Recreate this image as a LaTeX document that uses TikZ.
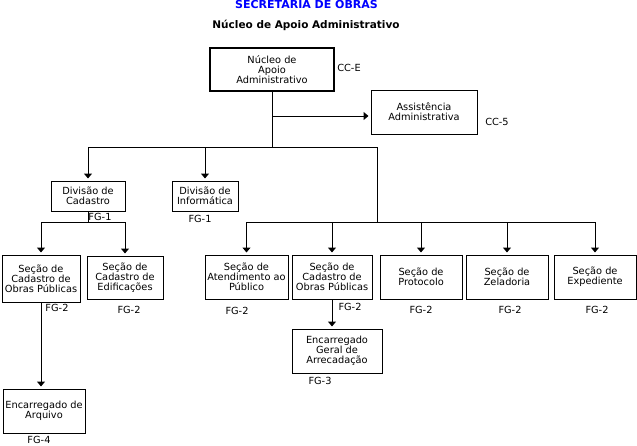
\documentclass[tikz,border=0pt]{standalone}
\usepackage{fontspec}
\setmainfont{DejaVu Sans}
\usepackage{xcolor}
\usetikzlibrary{arrows.meta, positioning}
\definecolor{titleblue}{RGB}{0,0,255}

\begin{document}
\begin{tikzpicture}
[x = 1pt, y = -1pt, line width = 1pt,
 every node/.style = {font=\fontsize{9.8}{10}\selectfont, align=center, inner sep=0pt},
 unit/.style = {rectangle, draw=black, fill=white},
 arr/.style = {-{Triangle[length=5pt, width=8pt]}, shorten >=2pt}]
\useasboundingbox (0,0) rectangle (637,445);

\node[text=titleblue, font=\bfseries\fontsize{11}{12}\selectfont] (t1) at (306.5,4.5) {SECRETARIA DE OBRAS};
\node[font=\bfseries\fontsize{10.5}{12}\selectfont] (t2) at (306,25) {Núcleo de Apoio Administrativo};

\node[unit, line width=2.5pt, minimum width=124pt, minimum height=43pt] (n1) at (272,69.5) {Núcleo de\\Apoio\\Administrativo};
\node[unit, minimum width=106pt, minimum height=44pt] (n2) at (424,112) {Assistência\\Administrativa};
\node[unit, minimum width=74pt, minimum height=30pt] (n3) at (88,196) {Divisão de\\Cadastro};
\node[unit, minimum width=66pt, minimum height=30pt] (n4) at (205,196) {Divisão de\\Informática};
\node[unit, minimum width=78pt, minimum height=47pt] (n5) at (41,278.5) {Seção de\\Cadastro de\\Obras Públicas};
\node[unit, minimum width=76pt, minimum height=43pt] (n6) at (125,277.5) {Seção de\\Cadastro de\\Edificações};
\node[unit, minimum width=83pt, minimum height=44pt] (n7) at (246.5,277) {Seção de\\Atendimento ao\\Público};
\node[unit, minimum width=80pt, minimum height=44pt] (n8) at (332,277) {Seção de\\Cadastro de\\Obras Públicas};
\node[unit, minimum width=82pt, minimum height=44pt] (n9) at (421,277) {Seção de\\Protocolo};
\node[unit, minimum width=82pt, minimum height=44pt] (n10) at (507,277) {Seção de\\Zeladoria};
\node[unit, minimum width=82pt, minimum height=44pt] (n11) at (595,277) {Seção de\\Expediente};
\node[unit, minimum width=90pt, minimum height=44pt] (n12) at (337,351) {Encarregado\\Geral de\\Arrecadação};
\node[unit, minimum width=82pt, minimum height=44pt] (n13) at (44,411) {Encarregado de\\Arquivo};

% cargos
\node (c1) at (349,68) {CC-E};
\node (c2) at (497,122) {CC-5};
\node (c3) at (100,217) {FG-1};
\node (c4) at (200,219) {FG-1};
\node (c5) at (57,308) {FG-2};
\node (c6) at (129,310) {FG-2};
\node (c7) at (237,311) {FG-2};
\node (c8) at (350,307) {FG-2};
\node (c9) at (421,310) {FG-2};
\node (c10) at (510,310) {FG-2};
\node (c11) at (597,310) {FG-2};
\node (c12) at (320,381) {FG-3};
\node (c13) at (39,440) {FG-4};

\coordinate (a1) at (272,116);
\coordinate (b1) at (272,147);
\coordinate (b2) at (377,147);
\coordinate (b3) at (377,222);
\coordinate (b4) at (88,222);

\draw (n1.south) -- (b1);
\draw[arr] (a1) -- (a1 -| n2.west);
\draw (b1 -| n3) -- (b2) -- (b3);
\foreach \n in {n3, n4}
  \draw[arr] (b1 -| \n) -- (\n);
\draw (n3.south) -- (b4);
\draw (b4 -| n5) -- (b4 -| n6);
\foreach \n in {n5, n6}
  \draw[arr] (b4 -| \n) -- (\n);
\draw (b3 -| n7) -- (b3 -| n11);
\foreach \n in {n7, n8, n9, n10, n11}
  \draw[arr] (b3 -| \n) -- (\n);
\draw[arr] (n8.south) -- (n8.south |- n12.north);
\draw[arr] (n5.south) -- (n5.south |- n13.north);

\end{tikzpicture}
\end{document}
